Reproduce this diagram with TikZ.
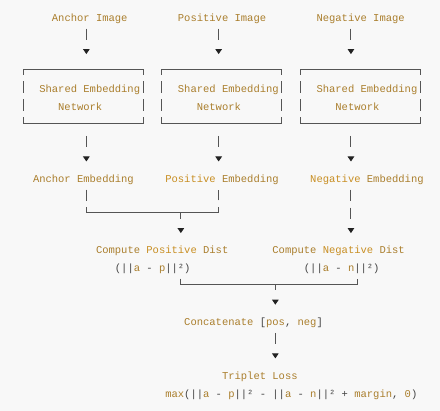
\documentclass[tikz,border=0pt]{standalone}
\usepackage{fontspec}
\newfontfamily\codefont{Liberation Mono}
\usetikzlibrary{arrows.meta}
\definecolor{bgc}{HTML}{F8F8F8}
\definecolor{gold}{HTML}{AA7E2C}
\definecolor{orng}{HTML}{C88E22}
\definecolor{punc}{HTML}{444444}
\definecolor{rulec}{HTML}{555555}
\definecolor{tipc}{HTML}{222222}
\newcommand\colx[1]{(20.2+6.3*(#1))}
\newcommand\rowb[1]{(21.2+17.9*(#1))}
\newcommand\pnc[1]{\textcolor{punc}{#1}}
\newcommand\orw[1]{\textcolor{orng}{#1}}
\begin{document}
\begin{tikzpicture}[x=1pt,y=-1pt,
  txt/.style={anchor=base west, inner sep=0pt, text=gold,
    font=\codefont\fontsize{10.5pt}{12pt}\selectfont,
    text height=9.2pt, text depth=0.8pt},
  boxn/.style={inner sep=0pt, minimum width=119.7pt, minimum height=53.7pt},
  hline/.style={draw=rulec, line width=1pt},
  vline/.style={draw=rulec, line width=1pt, dash pattern=on 12pt off 5.9pt, dash phase=6pt},
  link/.style={draw=rulec, line width=1pt},
  conn/.style={link, -{Triangle[length=5pt,width=6.5pt,color=tipc]}}]
\fill[bgc] (0,0) rectangle (440,411);
\useasboundingbox (0,0) rectangle (440,411);
% column and junction coordinates
\coordinate (cA) at (86.35,0);
\coordinate (cP) at (218.65,0);
\coordinate (cN) at (350.95,0);
\coordinate (cL) at (357.25,0);
\coordinate (j1) at (180.85,212.9);
\coordinate (j2) at (275.35,284.5);
% inputs
\node[txt] (aimg) at ({\colx{5}},{\rowb{0}}) {Anchor Image};
\node[txt] (pimg) at ({\colx{25}},{\rowb{0}}) {Positive Image};
\node[txt] (nimg) at ({\colx{47}},{\rowb{0}}) {Negative Image};
% shared networks
\foreach \b/\l in {1/0,2/22,3/44}{
  \node[boxn] (box\b) at ({83.2+6.3*\l},96.55) {};
  \node[txt] (sh\b) at ({\colx{\l+3}},{\rowb{4}}) {Shared Embedding};
  \node[txt] (nw\b) at ({\colx{\l+6}},{\rowb{5}}) {Network};
  \draw[hline] (box\b.north west) -- (box\b.north east);
  \draw[hline] (box\b.south west) -- (box\b.south east);
  \draw[vline] (box\b.north west) -- (box\b.south west);
  \draw[vline] (box\b.north east) -- (box\b.south east);
}
% embeddings
\node[txt] (aemb) at ({\colx{2}},{\rowb{9}}) {Anchor Embedding};
\node[txt] (pemb) at ({\colx{23}},{\rowb{9}}) {\orw{Positive} Embedding};
\node[txt] (nemb) at ({\colx{46}},{\rowb{9}}) {\orw{Negative} Embedding};
% distances
\node[txt] (pdist) at ({\colx{12}},{\rowb{13}}) {Compute \orw{Positive} Dist};
\node[txt] (pform) at ({\colx{15}},{\rowb{14}}) {\pnc{(||}a\pnc{\ - }p\pnc{||²)}};
\node[txt] (ndist) at ({\colx{40}},{\rowb{13}}) {Compute \orw{Negative} Dist};
\node[txt] (nform) at ({\colx{45}},{\rowb{14}}) {\pnc{(||}a\pnc{\ - }n\pnc{||²)}};
% concat and loss
\node[txt] (concat) at ({\colx{26}},{\rowb{17}}) {Concatenate \pnc{[}pos\pnc{,} neg\pnc{]}};
\node[txt] (loss) at ({\colx{32}},{\rowb{20}}) {Triplet Loss};
\node[txt] (lossf) at ({\colx{23}},{\rowb{21}}) {max\pnc{(||}a\pnc{\ - }p\pnc{||² - ||}a\pnc{\ - }n\pnc{||² + }margin\pnc{, }0\pnc{)}};
% connectors: images -> networks
\draw[conn, dash pattern=on 11pt off 60pt, shorten <=6.4pt, shorten >=15.4pt] (aimg.south -| cA) -- (box1.north -| cA);
\draw[conn, dash pattern=on 11pt off 60pt, shorten <=6.4pt, shorten >=15.4pt] (pimg.south -| cP) -- (box2.north -| cP);
\draw[conn, dash pattern=on 11pt off 60pt, shorten <=6.4pt, shorten >=15.4pt] (nimg.south -| cN) -- (box3.north -| cN);
% networks -> embeddings
\draw[conn, dash pattern=on 11pt off 60pt, shorten <=12.4pt, shorten >=11.4pt] (box1.south -| cA) -- (aemb.north -| cA);
\draw[conn, dash pattern=on 11pt off 60pt, shorten <=12.4pt, shorten >=11.4pt] (box2.south -| cP) -- (pemb.north -| cP);
\draw[conn, dash pattern=on 11pt off 60pt, shorten <=12.4pt, shorten >=11.4pt] (box3.south -| cN) -- (nemb.north -| cN);
% anchor + positive -> positive distance
\draw[link, dash pattern=on 11pt off 6.4pt on 144.3pt off 6.4pt on 11pt off 60pt, shorten <=6.4pt, shorten >=6.4pt] (aemb.south -| cA) |- (j1) -| (pemb.south -| cP);
\draw[conn, dash pattern=on 6pt off 60pt, shorten >=11.4pt] (j1) -- (pdist.north -| j1);
% negative -> negative distance
\draw[conn, dash pattern=on 11pt off 6.9pt on 11pt off 60pt, shorten <=6.4pt, shorten >=11.4pt] (nemb.south -| cN) -- (ndist.north -| cN);
% distances -> concatenate
\draw[link, shorten <=5.9pt, shorten >=5.9pt] (pform.south -| j1) |- (j2) -| (nform.south -| cL);
\draw[conn, dash pattern=on 6pt off 60pt, shorten >=11.4pt] (j2) -- (concat.north -| j2);
% concatenate -> loss
\draw[conn, dash pattern=on 11pt off 60pt, shorten <=6.4pt, shorten >=11.4pt] (concat.south -| j2) -- (loss.north -| j2);
\end{tikzpicture}
\end{document}
